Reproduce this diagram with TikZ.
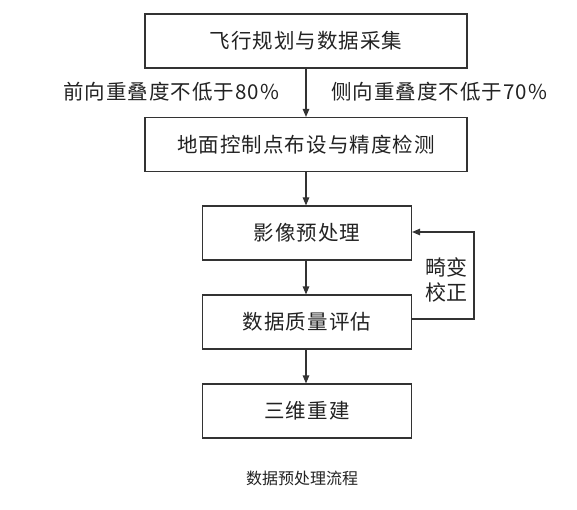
\documentclass[tikz,border=0pt]{standalone}
\usepackage{fontspec}
\newfontfamily\cjk[LetterSpace=5]{Noto Sans CJK SC}
\newfontfamily\cjkcap{Noto Sans CJK SC}
\usetikzlibrary{arrows.meta}
\definecolor{lc}{HTML}{333333}
\definecolor{tc}{HTML}{222222}
\begin{document}
\begin{tikzpicture}[x=1pt,y=-1pt,
  box/.style={draw=lc,line width=1.1pt,inner sep=0pt,text=tc,
    font=\cjk\fontsize{20.5}{20.5}\selectfont},
  wide/.style={box,minimum width=322pt,minimum height=54pt},
  narrow/.style={box,minimum width=209pt,minimum height=54pt},
  lbl/.style={text=tc,inner sep=0pt,font=\cjk\fontsize{20.5}{24}\selectfont},
  arr/.style={draw=lc,line width=1.1pt,-{Triangle[length=8pt,width=6.5pt]}}]
\useasboundingbox (0,0) rectangle (577,510);
\node[wide] (b1) at (306,41) {飞行规划与数据采集};
\node[wide] (b2) at (306,144.5) {地面控制点布设与精度检测};
\node[narrow] (b3) at (307,233) {影像预处理};
\node[narrow] (b4) at (307,322) {数据质量评估};
\node[narrow] (b5) at (307,411) {三维重建};
\node[lbl] (l1) at (171,92) {前向重叠度不低于80\%};
\node[lbl] (l2) at (439,92) {侧向重叠度不低于70\%};
\node[lbl,align=center,font=\cjkcap\fontsize{21}{25}\selectfont] (l3) at (446,280) {畸变\\校正};
\node[text=tc,inner sep=0pt,font=\cjkcap\fontsize{16}{16}\selectfont] (cap) at (302,478) {数据预处理流程};
\coordinate (fb) at (474,0);
\coordinate (s) at ([yshift=3pt]b4.east);
\coordinate (t) at ([yshift=1pt]b3.east);
\draw[arr] (b1.south) -- (b2.north);
\draw[arr] (b2.south -| 306,0) -- (b3.north -| 306,0);
\draw[arr] (b3.south -| 306,0) -- (b4.north -| 306,0);
\draw[arr] (b4.south -| 306,0) -- (b5.north -| 306,0);
\draw[arr] (s) -- (s -| fb) -- (t -| fb) -- (t);
\end{tikzpicture}
\end{document}
